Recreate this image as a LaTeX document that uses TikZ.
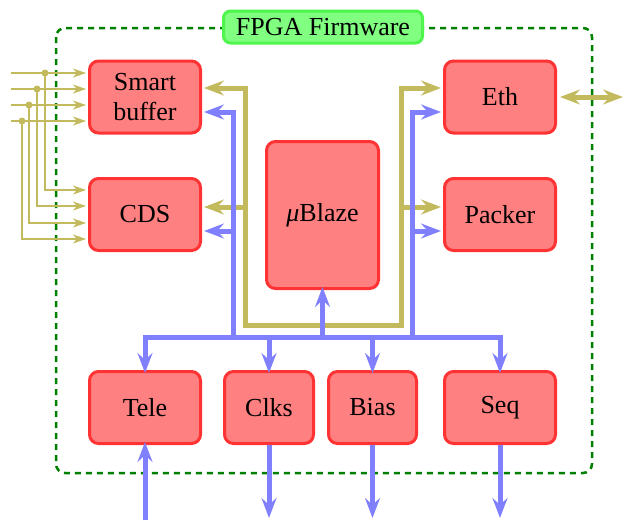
\documentclass[tikz,border=0pt]{standalone}
\usepackage{fontspec}
\setmainfont{Liberation Serif}
\usetikzlibrary{arrows.meta}
\definecolor{oliveC}{RGB}{194,186,92}
\definecolor{blueC}{RGB}{128,128,255}
\definecolor{boxFill}{RGB}{255,128,128}
\definecolor{boxDraw}{RGB}{255,51,51}
\definecolor{lblFill}{RGB}{128,255,128}
\definecolor{lblDraw}{RGB}{77,245,77}
\definecolor{dashC}{RGB}{0,128,0}
\tikzset{
  fwblock/.style={draw=boxDraw, fill=boxFill, line width=3pt, rounded corners=9pt,
    minimum width=111pt, minimum height=72pt, inner sep=0pt, align=center},
  oln/.style={draw=oliveC, line width=5pt},
  bln/.style={draw=blueC, line width=5pt},
  iln/.style={draw=oliveC, line width=2pt},
  bigtip/.tip={Stealth[length=20pt,width=15pt,inset=7pt]},
  smalltip/.tip={Stealth[length=13pt,width=9pt,inset=4pt]},
}
\begin{document}
\fontsize{26}{30}\selectfont
\begin{tikzpicture}[x=1pt,y=-1pt]
\useasboundingbox (0,0) rectangle (624,520);
% frame
\draw[dashC, line width=2.5pt, dash pattern=on 6pt off 5pt, rounded corners=9pt] (56,28) rectangle (592,473);
\node[draw=lblDraw, fill=lblFill, line width=3pt, rounded corners=7pt,
  minimum width=199pt, minimum height=32pt, inner sep=0pt] (lbl) at (323,27) {FPGA Firmware};
% blocks
\node[fwblock] (sb) at (145,97) {Smart\\buffer};
\node[fwblock] (cds) at (145,214.5) {CDS};
\node[fwblock, minimum width=112pt, minimum height=147pt] (mb) at (322.5,215) {{\itshape μ}Blaze};
\node[fwblock] (eth) at (500,97) {Eth};
\node[fwblock] (pk) at (500,214.5) {Packer};
\node[fwblock] (tele) at (145,407.5) {Tele};
\node[fwblock, minimum width=89pt] (clks) at (269,407.5) {Clks};
\node[fwblock, minimum width=88pt] (bias) at (372.5,407.5) {Bias};
\node[fwblock] (seq) at (500,407.5) {Seq};
% olive bus
\coordinate (o1) at (245,88);
\coordinate (o2) at (245,325);
\coordinate (o3) at (401,325);
\coordinate (o4) at (401,88);
\coordinate (o5) at (245,207);
\coordinate (o6) at (401,207);
\draw[oln, bigtip-bigtip] ([xshift=2pt]sb.east|-o1) -- (o1) -- (o2) -- (o3) -- (o4) -- ([xshift=-2pt]eth.west|-o4);
\draw[oln, -bigtip] (o5) -- ([xshift=2pt]cds.east|-o5);
\draw[oln, -bigtip] (o6) -- ([xshift=-2pt]pk.west|-o6);
% blue bus
\coordinate (b1) at (233,112);
\coordinate (b2) at (233,337);
\coordinate (b3) at (412,337);
\coordinate (b4) at (412,112);
\coordinate (b5) at (233,231);
\coordinate (b6) at (412,231);
\coordinate (bl) at (145,337);
\coordinate (br) at (500,337);
\draw[bln, bigtip-bigtip] ([yshift=-3pt]tele.north) -- (bl) -- (br) -- ([yshift=-3pt]seq.north);
\draw[bln, -bigtip] (b2) -- (b1) -- ([xshift=2pt]sb.east|-b1);
\draw[bln, -bigtip] (b5) -- ([xshift=2pt]cds.east|-b5);
\draw[bln, -bigtip] (b3) -- (b4) -- ([xshift=-2pt]eth.west|-b4);
\draw[bln, -bigtip] (b6) -- ([xshift=-2pt]pk.west|-b6);
\draw[bln, -bigtip] (mb.south|-b2) -- ([yshift=3pt]mb.south);
\draw[bln, -bigtip] (clks.north|-b2) -- ([yshift=-3pt]clks.north);
\draw[bln, -bigtip] (bias.north|-b2) -- ([yshift=-3pt]bias.north);
% bottom I/O
\coordinate (bot) at (0,520);
\coordinate (botE) at (0,518);
\draw[bln, -bigtip] (tele.south|-bot) -- ([yshift=3pt]tele.south);
\draw[bln, -bigtip] (clks.south) -- (clks.south|-botE);
\draw[bln, -bigtip] (bias.south) -- (bias.south|-botE);
\draw[bln, -bigtip] (seq.south) -- (seq.south|-botE);
% ethernet
\coordinate (ethR) at (623,97);
\draw[oln, bigtip-bigtip] ([xshift=3pt]eth.east) -- (ethR);
% left inputs
\foreach \i/\y/\dx/\ey in {1/73/45/190, 2/89/37/206, 3/105/29/223, 4/121/22/239} {
  \coordinate (in\i) at (11,\y);
  \coordinate (d\i) at (\dx,\y);
  \coordinate (e\i) at (\dx,\ey);
  \draw[iln, -smalltip] (in\i) -- ([xshift=-2pt]sb.west|-in\i);
  \draw[iln, -smalltip] (d\i) -- (e\i) -- ([xshift=-2pt]cds.west|-e\i);
  \fill[oliveC] (d\i) circle (3.5pt);
}
\end{tikzpicture}
\end{document}
